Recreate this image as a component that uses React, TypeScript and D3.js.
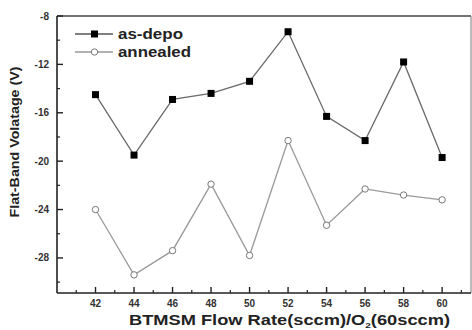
import React from "react";
import * as d3 from "d3";

const flowRates = [42, 44, 46, 48, 50, 52, 54, 56, 58, 60];
const asDepo = [-14.5, -19.5, -14.9, -14.4, -13.4, -9.3, -16.3, -18.3, -11.8, -19.7];
const annealed = [-24.0, -29.4, -27.4, -21.9, -27.8, -18.3, -25.3, -22.3, -22.8, -23.2];
const yTicks = [-8, -12, -16, -20, -24, -28];
const yMinor = [-10, -14, -18, -22, -26, -30];
const xMinor = [41, 43, 45, 47, 49, 51, 53, 55, 57, 59, 61];

const width = 472;
const height = 330;
const margin = { top: 16, right: 1, bottom: 37, left: 57 };

const App = () => {
  const x = d3.scaleLinear().domain([40, 61.5]).range([margin.left, width - margin.right]);
  const y = d3.scaleLinear().domain([-30.9, -8]).range([height - margin.bottom, margin.top]);

  const line = d3
    .line<number>()
    .x((d, i) => x(flowRates[i]))
    .y((d) => y(d));

  const x0 = margin.left;
  const x1 = width - margin.right;
  const y0 = height - margin.bottom;
  const y1 = margin.top;
  const font = "Arial, 'Liberation Sans', sans-serif";

  return (
    <svg
      width={width}
      height={height}
      style={{ position: "absolute", left: 0, top: 0, background: "#fff" }}
      fontFamily={font}
    >
      {/* frame */}
      <line x1={x0} y1={y1} x2={x1} y2={y1} stroke="#444" strokeWidth={1.3} />
      <line x1={x1} y1={y1} x2={x1} y2={y0} stroke="#777" strokeWidth={1} />
      <line x1={x0} y1={y1} x2={x0} y2={y0} stroke="#222" strokeWidth={1.6} />
      <line x1={x0} y1={y0} x2={x1} y2={y0} stroke="#222" strokeWidth={1.6} />

      {/* y ticks */}
      {yTicks.map((t) => (
        <g key={t}>
          <line x1={x0} x2={x0 + 6} y1={y(t)} y2={y(t)} stroke="#222" strokeWidth={1.4} />
          <text
            x={x0 - 8}
            y={y(t)}
            dy="0.35em"
            textAnchor="end"
            fontSize={10}
            fontWeight="bold"
            fill="#333"
          >
            {t}
          </text>
        </g>
      ))}
      {yMinor.map((t) => (
        <line key={t} x1={x0} x2={x0 + 3} y1={y(t)} y2={y(t)} stroke="#222" strokeWidth={1.2} />
      ))}

      {/* x ticks */}
      {flowRates.map((t) => (
        <g key={t}>
          <line x1={x(t)} x2={x(t)} y1={y0} y2={y0 - 6} stroke="#222" strokeWidth={1.4} />
          <text
            x={x(t)}
            y={y0 + 14}
            textAnchor="middle"
            fontSize={10}
            fontWeight="bold"
            fill="#333"
          >
            {t}
          </text>
        </g>
      ))}
      {xMinor.map((t) => (
        <line key={t} x1={x(t)} x2={x(t)} y1={y0} y2={y0 - 3} stroke="#222" strokeWidth={1.2} />
      ))}

      {/* axis titles */}
      <text
        x={129}
        y={height - 5}
        fontSize={14.5}
        fontWeight="bold"
        fill="#222"
        textLength={321}
        lengthAdjust="spacingAndGlyphs"
      >
        BTMSM Flow Rate(sccm)/O<tspan fontSize={8} dy={3}>2</tspan>
        <tspan dy={-3}>(60sccm)</tspan>
      </text>
      <text
        transform={`translate(19,${142}) rotate(-90)`}
        textAnchor="middle"
        fontSize={13}
        fontWeight="bold"
        fill="#222"
        textLength={151}
        lengthAdjust="spacingAndGlyphs"
      >
        Flat-Band Volatage (V)
      </text>

      {/* series */}
      <path d={line(asDepo) ?? ""} fill="none" stroke="#6a6a6a" strokeWidth={1.3} />
      <path d={line(annealed) ?? ""} fill="none" stroke="#999" strokeWidth={1.3} />
      {asDepo.map((v, i) => (
        <rect key={i} x={x(flowRates[i]) - 3.5} y={y(v) - 3.5} width={7} height={7} fill="#000" />
      ))}
      {annealed.map((v, i) => (
        <circle key={i} cx={x(flowRates[i])} cy={y(v)} r={3.2} fill="#fff" stroke="#777" strokeWidth={1} />
      ))}

      {/* legend */}
      <g>
        <line x1={75} x2={113} y1={34} y2={34} stroke="#555" strokeWidth={1.3} />
        <rect x={91} y={30.5} width={7} height={7} fill="#000" />
        <text
          x={118}
          y={34}
          dy="0.35em"
          fontSize={15}
          fontWeight="bold"
          fill="#222"
          textLength={65}
          lengthAdjust="spacingAndGlyphs"
        >
          as-depo
        </text>
        <line x1={75} x2={113} y1={52} y2={52} stroke="#999" strokeWidth={1.3} />
        <circle cx={94.5} cy={52} r={3.2} fill="#fff" stroke="#777" strokeWidth={1} />
        <text
          x={118}
          y={52}
          dy="0.35em"
          fontSize={15}
          fontWeight="bold"
          fill="#222"
          textLength={73}
          lengthAdjust="spacingAndGlyphs"
        >
          annealed
        </text>
      </g>
    </svg>
  );
};

export default App;
